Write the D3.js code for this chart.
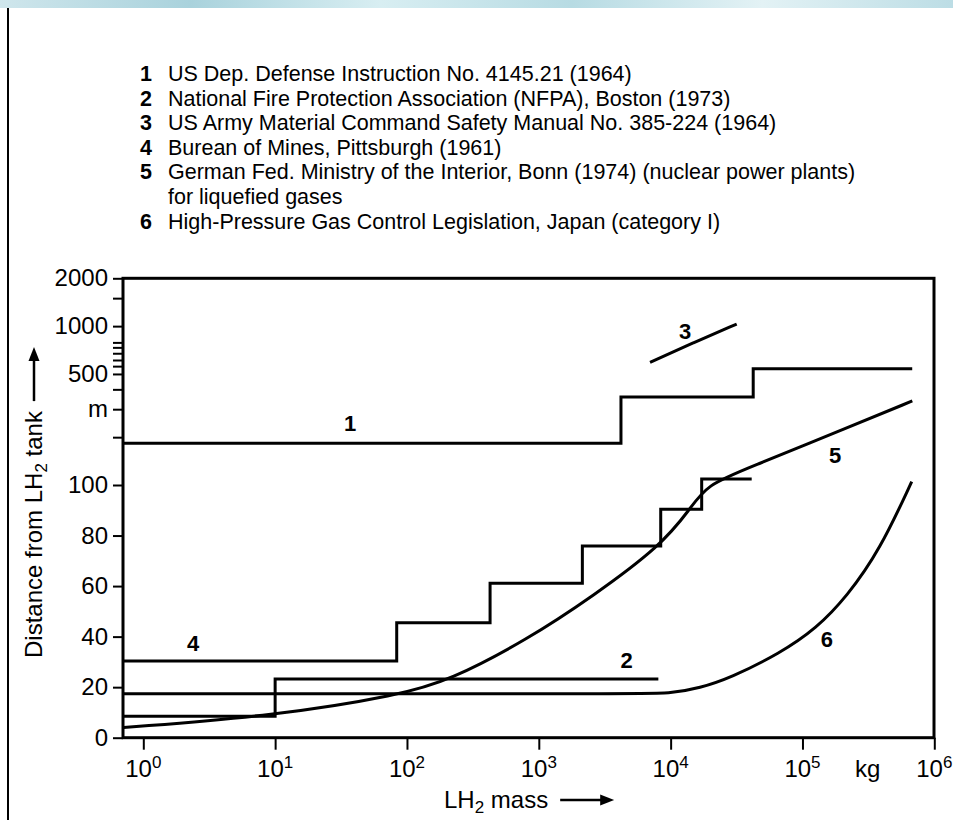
<!DOCTYPE html>
<html>
<head>
<meta charset="utf-8">
<script src="https://cdn.jsdelivr.net/npm/d3@7/dist/d3.min.js"></script>
<style>
  html, body { margin: 0; padding: 0; background: #fff; }
  svg { display: block; }
  text { font-family: "Liberation Sans", Arial, Helvetica, sans-serif; fill: #000; }
</style>
</head>
<body>
<svg id="chart" width="953" height="820"></svg>
<script>
// ---------------- data ----------------
const legendNums  = ["1", "2", "3", "4", "5", "", "6"];
const legendTexts = [
  "US Dep. Defense Instruction No. 4145.21 (1964)",
  "National Fire Protection Association (NFPA), Boston (1973)",
  "US Army Material Command Safety Manual No. 385-224 (1964)",
  "Burean of Mines, Pittsburgh (1961)",
  "German Fed. Ministry of the Interior, Bonn (1974) (nuclear power plants)",
  "for liquefied gases",
  "High-Pressure Gas Control Legislation, Japan (category I)"
];

const xTickExps = [0, 1, 2, 3, 4, 5, 6];
const yLinTicks = [0, 20, 40, 60, 80, 100];
const yLogMajor = [500, 1000, 2000];
const yLogUnitTick = 300;            // labelled "m"
const yLogMinor = [200, 400, 560, 612, 675, 735, 790, 1500];

// series: [mass kg, distance m]
const curve1 = [[0.71, 183], [4200, 358], [42300, 540], [680000, 540]];          // step
const curve2 = [[0.71, 8.5], [10, 23.2], [8070, 23.2]];                           // step
const curve3 = [[6980, 592], [14800, 785], [31700, 1031]];                         // smooth
const curve4 = [[0.71, 30.4], [83.6, 45.5], [427, 61.1], [2140, 75.9], [8410, 90.4], [17200, 109], [41200, 109]]; // step
const curve5 = [[0.71, 4.0], [10, 8.7], [88.5, 16.9], [212, 22.8], [810, 38.7], [2590, 56.1],
                [8410, 75.9], [14000, 90.4], [18800, 100.5], [40000, 129], [229000, 233], [681000, 338]];
const curve6 = [[0.71, 17.4], [5000, 17.4], [9900, 17.4], [16700, 19.7], [28200, 23.6], [67600, 33.4],
                [128000, 43.3], [217000, 55.8], [387000, 74.3], [674000, 105]];

const curveLabels = ["1", "2", "3", "4", "5", "6"];
const curveLabelX = [37, 4640, 12900, 2.39, 177000, 153000];
const curveLabelY = [245, 30.7, 923, 37.4, 154, 38.7];

// ---------------- layout ----------------
const plotLeft = 123, plotRight = 934, plotTop = 278.3, plotBreak = 485, plotBottom = 737.7;
const svg = d3.select("#chart");

// top decorative band
const defs = svg.append("defs");
const grad = defs.append("linearGradient").attr("id", "band").attr("x1", "0").attr("x2", "1");
[["0%", "#cfe6ec"], ["20%", "#a9d2dc"], ["40%", "#d8eef2"], ["60%", "#b7dbe3"], ["80%", "#e3f2f5"], ["100%", "#bcdde5"]]
  .forEach(([o, c]) => grad.append("stop").attr("offset", o).attr("stop-color", c));
svg.append("rect").attr("x", 0).attr("y", 0).attr("width", 953).attr("height", 8).attr("fill", "url(#band)");
svg.append("line").attr("x1", 8).attr("x2", 8).attr("y1", 8).attr("y2", 820)
  .attr("stroke", "#000").attr("stroke-width", 2);

// scales
const x = d3.scaleLog().domain([1, 1e6]).range([143.3, 934.3]);
const yLin = d3.scaleLinear().domain([0, 100]).range([plotBottom, plotBreak]);
const yLog = d3.scaleLog().domain([100, 2000]).range([plotBreak, plotTop]);
const y = v => (v <= 100 ? yLin(v) : yLog(v));

// legend
const legend = svg.append("g");
legendTexts.forEach((t, i) => {
  const by = 81 + i * 24.6;
  if (legendNums[i]) {
    legend.append("text").attr("x", 140).attr("y", by)
      .attr("font-size", 21.5).attr("font-weight", "bold").text(legendNums[i]);
  }
  legend.append("text").attr("x", 168).attr("y", by).attr("font-size", 21.5).text(t);
});

// frame
svg.append("rect").attr("x", plotLeft).attr("y", plotTop)
  .attr("width", plotRight - plotLeft).attr("height", plotBottom - plotTop)
  .attr("fill", "none").attr("stroke", "#000").attr("stroke-width", 3);

// y axis: linear part
const axLin = d3.axisLeft(yLin).tickValues(yLinTicks).tickSize(10).tickPadding(5).tickFormat(d3.format("d"));
const gLin = svg.append("g").attr("transform", `translate(${plotLeft},0)`).call(axLin);
// y axis: log part majors
const axLog = d3.axisLeft(yLog).tickValues(yLogMajor.concat([yLogUnitTick])).tickSize(10).tickPadding(5)
  .tickFormat(d => (d === yLogUnitTick ? "m" : String(d)));
const gLog = svg.append("g").attr("transform", `translate(${plotLeft},0)`).call(axLog);
const axMinor = d3.axisLeft(yLog).tickValues(yLogMinor).tickSize(10).tickFormat("");
const gMin = svg.append("g").attr("transform", `translate(${plotLeft},0)`).call(axMinor);

[gLin, gLog, gMin].forEach(g => {
  g.select(".domain").remove();
  g.selectAll(".tick line").attr("stroke", "#000").attr("stroke-width", 2);
  g.selectAll(".tick text").attr("font-size", 24).attr("fill", "#000")
    .style("font-family", '"Liberation Sans", Arial, sans-serif');
});

// x axis
const axX = d3.axisBottom(x).tickValues(xTickExps.map(e => Math.pow(10, e))).tickSize(12).tickFormat("");
const gX = svg.append("g").attr("transform", `translate(0,${plotBottom})`).call(axX);
gX.select(".domain").remove();
gX.selectAll(".tick line").attr("stroke", "#000").attr("stroke-width", 2);
xTickExps.forEach(e => {
  const t = svg.append("text").attr("x", x(Math.pow(10, e))).attr("y", 777)
    .attr("text-anchor", "middle").attr("font-size", 24);
  t.append("tspan").text("10");
  t.append("tspan").attr("dy", -9).attr("font-size", 17).text(String(e));
});
svg.append("text").attr("x", 855).attr("y", 777).attr("font-size", 24).text("kg");

// x title
const xt = svg.append("text").attr("x", 444).attr("y", 808).attr("font-size", 24);
xt.append("tspan").text("LH");
xt.append("tspan").attr("font-size", 17).attr("dy", 5).text("2");
xt.append("tspan").attr("dy", -5).text(" mass");
const xtEnd = 444 + xt.node().getComputedTextLength();
svg.append("line").attr("x1", xtEnd + 12).attr("x2", xtEnd + 54).attr("y1", 800).attr("y2", 800)
  .attr("stroke", "#000").attr("stroke-width", 2.5);
svg.append("path").attr("d", `M${xtEnd + 66},800 L${xtEnd + 52},794.5 L${xtEnd + 52},805.5 Z`).attr("fill", "#000");

// y title (rotated)
const yg = svg.append("g").attr("transform", "translate(42,658) rotate(-90)");
const yt = yg.append("text").attr("x", 0).attr("y", 0).attr("font-size", 24);
yt.append("tspan").text("Distance from LH");
yt.append("tspan").attr("font-size", 17).attr("dy", 5).text("2");
yt.append("tspan").attr("dy", -5).text(" tank");
const ytEnd = yt.node().getComputedTextLength();
yg.append("line").attr("x1", ytEnd + 10).attr("x2", ytEnd + 52).attr("y1", -8).attr("y2", -8)
  .attr("stroke", "#000").attr("stroke-width", 2.5);
yg.append("path").attr("d", `M${ytEnd + 64},-8 L${ytEnd + 50},-13.5 L${ytEnd + 50},-2.5 Z`).attr("fill", "#000");

// curves
const stepLine = d3.line().x(d => x(d[0])).y(d => y(d[1])).curve(d3.curveStepAfter);
const smoothLine = d3.line().x(d => x(d[0])).y(d => y(d[1])).curve(d3.curveBasis);
const gC = svg.append("g").attr("fill", "none").attr("stroke", "#000").attr("stroke-width", 3)
  .attr("stroke-linejoin", "miter");
[curve1, curve2, curve4].forEach(c => gC.append("path").attr("d", stepLine(c)));
[curve3, curve5, curve6].forEach(c => gC.append("path").attr("d", smoothLine(c)));

// curve labels
curveLabels.forEach((t, i) => {
  svg.append("text").attr("x", x(curveLabelX[i])).attr("y", y(curveLabelY[i]))
    .attr("text-anchor", "middle").attr("dominant-baseline", "central")
    .attr("font-size", 22).attr("font-weight", "bold").text(t);
});
</script>
</body>
</html>
